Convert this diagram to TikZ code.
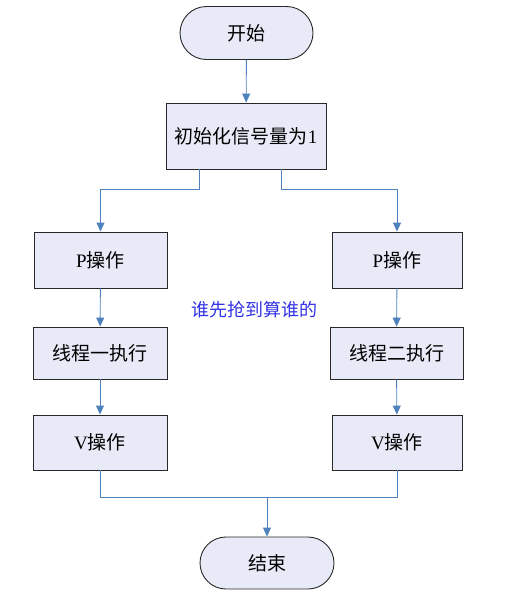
\documentclass[tikz,border=0pt]{standalone}
\usepackage{fontspec}
\setmainfont{Liberation Serif}
\newfontfamily\cjk{Noto Sans CJK SC}
\usetikzlibrary{arrows.meta,shapes.misc}
\definecolor{boxfill}{RGB}{232,235,247}
\definecolor{linkblue}{RGB}{79,129,189}
\definecolor{edge}{RGB}{40,40,40}
\definecolor{notetext}{RGB}{50,50,230}
\begin{document}
\begin{tikzpicture}[x=1pt,y=-1pt,
  base/.style={draw=edge,line width=0.9pt,fill=boxfill,inner sep=0pt,font=\fontsize{19}{22}\selectfont},
  stadium/.style={base,rounded rectangle,minimum width=133pt,minimum height=53pt},
  procbox/.style={base,rectangle,minimum width=134pt},
  wire/.style={draw=linkblue,line width=0.9pt},
  conn/.style={wire,-{Triangle[width=8pt,length=9pt]}}
]
\useasboundingbox (0,0) rectangle (516,600);
\node[stadium] (start) at (246.5,33) {\cjk 开始};
\node[procbox,minimum width=160pt,minimum height=66pt] (init) at (246,136) {{\cjk 初始化信号量为}1};
\node[procbox,minimum width=133pt,minimum height=56pt] (p1) at (100.5,260) {P{\cjk 操作}};
\node[procbox,minimum width=130pt,minimum height=56pt] (p2) at (397,260) {P{\cjk 操作}};
\node[procbox,minimum height=52pt] (t1) at (100,353) {\cjk 线程一执行};
\node[procbox,minimum width=133pt,minimum height=52pt] (t2) at (396.5,353) {\cjk 线程二执行};
\node[procbox,minimum height=55pt] (v1) at (100,442.5) {V{\cjk 操作}};
\node[procbox,minimum width=130pt,minimum height=55pt] (v2) at (397,442.5) {V{\cjk 操作}};
\node[stadium,minimum width=134pt,minimum height=52pt] (end) at (267,563) {\cjk 结束};
\node[font=\fontsize{18}{21}\selectfont\cjk,text=notetext] (note) at (254,310) {谁先抢到算谁的};
\coordinate (merge) at (267,497);
\draw[conn] (start) -- (init);
\draw[conn] ([xshift=-47pt]init.south) -- ++(0,20) -| (p1.north);
\draw[conn] ([xshift=35pt]init.south) -- ++(0,20) -| (p2.north);
\draw[conn] (p1) -- (t1);
\draw[conn] (p2) -- (t2);
\draw[conn] (t1) -- (v1);
\draw[conn] (t2) -- (v2);
\draw[wire] (v1.south) |- (merge);
\draw[wire] (v2.south) |- (merge);
\draw[conn] (merge) -- (end);
\end{tikzpicture}
\end{document}
